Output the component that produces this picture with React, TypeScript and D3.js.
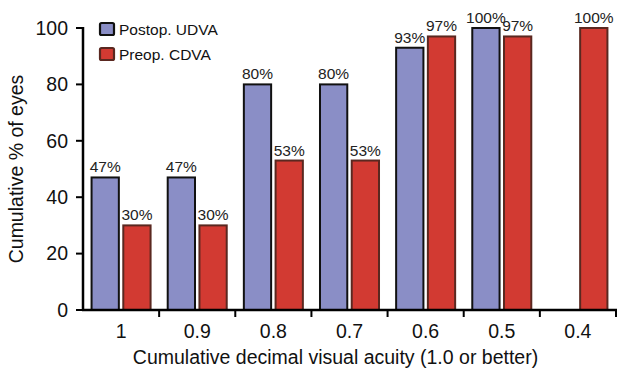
import React from "react";
import * as d3 from "d3";

const categories = ["1", "0.9", "0.8", "0.7", "0.6", "0.5", "0.4"];
const postopUDVA: (number | null)[] = [47, 47, 80, 80, 93, 100, null];
const preopCDVA: (number | null)[] = [30, 30, 53, 53, 97, 97, 100];
const seriesNames = ["Postop. UDVA", "Preop. CDVA"];
const yTicks = [0, 20, 40, 60, 80, 100];

const W = 620, H = 375;
const m = { left: 83, right: 616, top: 28, bottom: 310 };
const FONT = "Liberation Sans, Arial, Helvetica, sans-serif";
const fills = ["#8a8ec6", "#d23a32"];
const strokes = ["#111111", "#5a2820"];

export default function App() {
  const x = d3.scaleBand<string>().domain(categories).range([m.left, m.right]).paddingInner(0).paddingOuter(0);
  const sub = d3.scaleBand<string>().domain(seriesNames).range([0, x.bandwidth()]).paddingInner(0.14).paddingOuter(0.27);
  const y = d3.scaleLinear().domain([0, 100]).range([m.bottom, m.top]);
  const data = [postopUDVA, preopCDVA];

  return (
    <svg width={W} height={H} style={{ position: "absolute", left: 0, top: 0, background: "#fff" }} fontFamily={FONT}>
      {data.map((vals, si) =>
        vals.map((v, i) => {
          if (v == null) return null;
          const bx = (x(categories[i]) as number) + (sub(seriesNames[si]) as number);
          const bw = sub.bandwidth();
          return (
            <g key={`${si}-${i}`}>
              <rect x={bx} y={y(v)} width={bw} height={y(0) - y(v)} fill={fills[si]} stroke={strokes[si]} strokeWidth={2} />
              <text x={bx + bw / 2} y={y(v) - 5} textAnchor="middle" fontSize={15.5} fill="#222">{`${v}%`}</text>
            </g>
          );
        })
      )}
      {/* axes */}
      <line x1={m.left} x2={m.left} y1={m.top - 1} y2={m.bottom + 1} stroke="#000" strokeWidth={2.5} />
      <line x1={m.left - 1} x2={m.right + 1} y1={m.bottom} y2={m.bottom} stroke="#000" strokeWidth={2.5} />
      {yTicks.map((t) => (
        <g key={t}>
          <line x1={m.left - 7} x2={m.left} y1={y(t)} y2={y(t)} stroke="#000" strokeWidth={2} />
          <text x={m.left - 15} y={y(t)} dy="0.35em" textAnchor="end" fontSize={19.5} fill="#111">{t}</text>
        </g>
      ))}
      {categories.map((c) => (
        <g key={c}>
          <line x1={(x(c) as number) + x.bandwidth()} x2={(x(c) as number) + x.bandwidth()} y1={m.bottom} y2={m.bottom + 7} stroke="#000" strokeWidth={2} />
          <text x={(x(c) as number) + x.bandwidth() / 2} y={338} textAnchor="middle" fontSize={19.5} fill="#111">{c}</text>
        </g>
      ))}
      <text x={(m.left + m.right) / 2 - 14} y={364} textAnchor="middle" fontSize={19.5} fill="#111">Cumulative decimal visual acuity (1.0 or better)</text>
      <text transform={`translate(23, ${(m.top + m.bottom) / 2}) rotate(-90)`} textAnchor="middle" fontSize={19.5} fill="#111">Cumulative % of eyes</text>
      {/* legend */}
      {seriesNames.map((s, i) => (
        <g key={s} transform={`translate(100, ${23 + i * 25})`}>
          <rect x={0} y={0} width={14} height={12} fill={fills[i]} stroke={strokes[i]} strokeWidth={2.2} rx={1.5} />
          <text x={19} y={12} fontSize={15.5} fill="#111">{s}</text>
        </g>
      ))}
    </svg>
  );
}
